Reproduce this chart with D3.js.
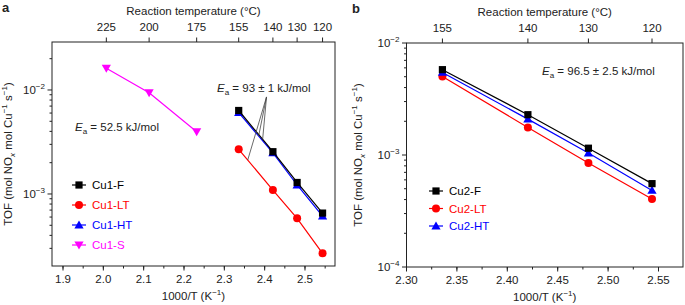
<!DOCTYPE html>
<html>
<head>
<meta charset="utf-8">
<script src="https://cdn.jsdelivr.net/npm/d3@7"></script>
<style>
  body { margin: 0; background: #fff; }
  svg { font-family: "Liberation Sans", Arial, sans-serif; }
  text { fill: #222; }
</style>
</head>
<body>
<script>
// ---- data (1000/T in K^-1, TOF in mol NOx mol Cu^-1 s^-1)
const tempsA = [225, 200, 175, 155, 140, 130, 120];   // top axis ticks, panel a
const tempsB = [155, 140, 130, 120];                  // top axis ticks, panel b
const invT = t => 1000 / (t + 273.15);

const xCu1S = [225, 200, 175].map(invT);
const yCu1S = [0.0162, 0.0094, 0.00397];
const xCu1 = [155, 140, 130, 120].map(invT);
const yCu1F = [0.00635, 0.00255, 0.00129, 0.000655];
const yCu1LT = [0.00269, 0.00109, 0.000584, 0.000269];
const yCu1HT = [0.00605, 0.00248, 0.00122, 0.000614];

const xCu2 = [155, 140, 130, 120].map(invT);
const yCu2F = [0.00578, 0.00229, 0.00115, 0.000555];
const yCu2LT = [0.00503, 0.00176, 0.00085, 0.000405];
const yCu2HT = [0.00546, 0.00209, 0.00104, 0.000483];

const xTicksA = [1.9, 2.0, 2.1, 2.2, 2.3, 2.4, 2.5];
const xTicksB = [2.30, 2.35, 2.40, 2.45, 2.50, 2.55];

const width = 685, height = 305;
const svg = d3.select("body").append("svg")
  .attr("width", width).attr("height", height);

const FS = 11.5;

function supText(sel, base, sup) {
  sel.append("tspan").text(base);
  sel.append("tspan").attr("dy", -5).attr("font-size", FS * 0.7).text(sup);
}

function marker(g, type, cx, cy, color) {
  if (type === "square") {
    g.append("rect").attr("x", cx - 3.6).attr("y", cy - 3.6)
      .attr("width", 7.2).attr("height", 7.2).attr("fill", color);
  } else if (type === "circle") {
    g.append("circle").attr("cx", cx).attr("cy", cy).attr("r", 4).attr("fill", color);
  } else if (type === "up") {
    g.append("path").attr("d", `M${cx},${cy - 4.6}L${cx + 4.6},${cy + 3.4}L${cx - 4.6},${cy + 3.4}Z`)
      .attr("fill", color);
  } else {
    g.append("path").attr("d", `M${cx},${cy + 4.6}L${cx + 4.6},${cy - 3.4}L${cx - 4.6},${cy - 3.4}Z`)
      .attr("fill", color);
  }
}

function panel(o) {
  const g = svg.append("g");
  const x = d3.scaleLinear().domain(o.xDomain).range([o.left, o.right]);
  const y = d3.scaleLog().domain(o.yDomain).range([o.bottom, o.top]);

  // frame
  g.append("rect").attr("x", o.left).attr("y", o.top)
    .attr("width", o.right - o.left).attr("height", o.bottom - o.top)
    .attr("fill", "none").attr("stroke", "#222").attr("stroke-width", 1);

  // bottom axis
  const bx = g.append("g").attr("transform", `translate(0,${o.bottom})`);
  const minor = d3.range(o.xDomain[0], o.xDomain[1], o.xMinor)
    .map(v => Math.round(v / o.xMinor) * o.xMinor)
    .filter(v => v >= o.xDomain[0] && v <= o.xDomain[1]);
  minor.forEach(v => {
    bx.append("line").attr("x1", x(v)).attr("x2", x(v)).attr("y1", 0).attr("y2", 2.5)
      .attr("stroke", "#222");
  });
  o.xTicks.forEach(v => {
    bx.append("line").attr("x1", x(v)).attr("x2", x(v)).attr("y1", 0).attr("y2", 4.5)
      .attr("stroke", "#222");
    bx.append("text").attr("x", x(v)).attr("y", 17).attr("text-anchor", "middle")
      .attr("font-size", FS).text(o.xFmt(v));
  });
  const xt = g.append("text").attr("x", (o.left + o.right) / 2).attr("y", o.bottom + 34)
    .attr("text-anchor", "middle").attr("font-size", FS);
  xt.append("tspan").text("1000/T (K");
  xt.append("tspan").attr("dy", -5).attr("font-size", FS * 0.7).text("−1");
  xt.append("tspan").attr("dy", 5).text(")");

  // top axis (temperature)
  o.temps.forEach(t => {
    const px = x(invT(t));
    g.append("line").attr("x1", px).attr("x2", px).attr("y1", o.top).attr("y2", o.top - 4.5)
      .attr("stroke", "#222");
    g.append("text").attr("x", px).attr("y", o.top - 11).attr("text-anchor", "middle")
      .attr("font-size", FS).text(t);
  });
  g.append("text").attr("x", (o.left + o.right) / 2).attr("y", o.top - 27)
    .attr("text-anchor", "middle").attr("font-size", FS).text("Reaction temperature (°C)");

  // left axis (log)
  const [y0, y1] = o.yDomain;
  for (let e = Math.floor(Math.log10(y0)); e <= Math.ceil(Math.log10(y1)); e++) {
    for (let m = 1; m <= 9; m++) {
      const v = m * Math.pow(10, e);
      if (v < y0 * 0.999 || v > y1 * 1.001) continue;
      const len = m === 1 ? 4.5 : 2.5;
      g.append("line").attr("x1", o.left).attr("x2", o.left - len)
        .attr("y1", y(v)).attr("y2", y(v)).attr("stroke", "#222");
      if (m === 1) {
        const t = g.append("text").attr("x", o.left - 7).attr("y", y(v) + 4)
          .attr("text-anchor", "end").attr("font-size", FS);
        supText(t, "10", "−" + (-e));
      }
    }
  }
  const yt = g.append("text")
    .attr("transform", `translate(${o.yTitleX},${(o.top + o.bottom) / 2}) rotate(-90)`)
    .attr("text-anchor", "middle").attr("font-size", FS);
  yt.append("tspan").text("TOF (mol NO");
  yt.append("tspan").attr("dy", 3).attr("font-size", FS * 0.7).attr("font-style", "italic").text("x");
  yt.append("tspan").attr("dy", -3).text(" mol Cu");
  yt.append("tspan").attr("dy", -5).attr("font-size", FS * 0.7).text("−1");
  yt.append("tspan").attr("dy", 5).text(" s");
  yt.append("tspan").attr("dy", -5).attr("font-size", FS * 0.7).text("−1");
  yt.append("tspan").attr("dy", 5).text(")");

  // series
  const line = d3.line().x(d => x(d[0])).y(d => y(d[1]));
  o.series.forEach(s => {
    const pts = s.x.map((v, i) => [v, s.y[i]]);
    g.append("path").attr("d", line(pts)).attr("fill", "none")
      .attr("stroke", s.color).attr("stroke-width", 1.2);
    pts.forEach(p => marker(g, s.type, x(p[0]), y(p[1]), s.color));
  });

  // legend
  o.series.slice().sort((a, b) => a.order - b.order).forEach((s, i) => {
    const ly = o.legend.y + i * o.legend.dy;
    g.append("line").attr("x1", o.legend.x - 7).attr("x2", o.legend.x + 7)
      .attr("y1", ly).attr("y2", ly).attr("stroke", s.color).attr("stroke-width", 1.2);
    marker(g, s.type, o.legend.x, ly, s.color);
    g.append("text").attr("x", o.legend.x + 13).attr("y", ly + 4)
      .attr("font-size", FS).attr("fill", s.color).style("fill", s.color).text(s.name);
  });

  return { g, x, y };
}

function ea(g, px, py, rest) {
  const t = g.append("text").attr("x", px).attr("y", py).attr("font-size", FS);
  t.append("tspan").attr("font-style", "italic").text("E");
  t.append("tspan").attr("dy", 3).attr("font-size", FS * 0.7).text("a");
  t.append("tspan").attr("dy", -3).text(rest);
}

// ---- panel a
const A = panel({
  left: 52, right: 335, top: 42, bottom: 266,
  xDomain: [1.8727, 2.5744], yDomain: [2.03e-4, 0.02893],
  xTicks: xTicksA, xMinor: 0.05, xFmt: d3.format(".1f"),
  temps: tempsA, yTitleX: 12,
  legend: { x: 79, y: 185, dy: 20 },
  series: [
    { name: "Cu1-S", x: xCu1S, y: yCu1S, color: "#ff00ff", type: "down", order: 3 },
    { name: "Cu1-LT", x: xCu1, y: yCu1LT, color: "#ff0000", type: "circle", order: 1 },
    { name: "Cu1-HT", x: xCu1, y: yCu1HT, color: "#0000ff", type: "up", order: 2 },
    { name: "Cu1-F", x: xCu1, y: yCu1F, color: "#000000", type: "square", order: 0 }
  ]
});

// annotation leader lines for panel a
function onSeries(xs, ys, xv) {
  const i = d3.bisectLeft(xs, xv) - 1;
  const t = (xv - xs[i]) / (xs[i + 1] - xs[i]);
  return Math.exp(Math.log(ys[i]) + t * (Math.log(ys[i + 1]) - Math.log(ys[i])));
}
const annOrigin = [2.4046, 0.00857];
[[yCu1F, 2.395], [yCu1HT, 2.385], [yCu1LT, 2.358]].forEach(([ys, xv]) => {
  A.g.append("line")
    .attr("x1", A.x(annOrigin[0])).attr("y1", A.y(annOrigin[1]))
    .attr("x2", A.x(xv)).attr("y2", A.y(onSeries(xCu1, ys, xv)))
    .attr("stroke", "#444").attr("stroke-width", 0.8);
});
ea(A.g, 217, 92, " = 93 ± 1 kJ/mol");
ea(A.g, 75, 131, " = 52.5 kJ/mol");

// ---- panel b
const B = panel({
  left: 406.5, right: 683, top: 43, bottom: 267,
  xDomain: [2.30, 2.5743], yDomain: [1e-4, 1e-2],
  xTicks: xTicksB, xMinor: 0.025, xFmt: d3.format(".2f"),
  temps: tempsB, yTitleX: 362,
  legend: { x: 436, y: 191, dy: 17.5 },
  series: [
    { name: "Cu2-LT", x: xCu2, y: yCu2LT, color: "#ff0000", type: "circle", order: 1 },
    { name: "Cu2-HT", x: xCu2, y: yCu2HT, color: "#0000ff", type: "up", order: 2 },
    { name: "Cu2-F", x: xCu2, y: yCu2F, color: "#000000", type: "square", order: 0 }
  ]
});
ea(B.g, 542, 75, " = 96.5 ± 2.5 kJ/mol");

// panel letters
svg.append("text").attr("x", 2).attr("y", 12).attr("font-size", 13)
  .attr("font-weight", "bold").text("a");
svg.append("text").attr("x", 352).attr("y", 13).attr("font-size", 13)
  .attr("font-weight", "bold").text("b");
</script>
</body>
</html>
